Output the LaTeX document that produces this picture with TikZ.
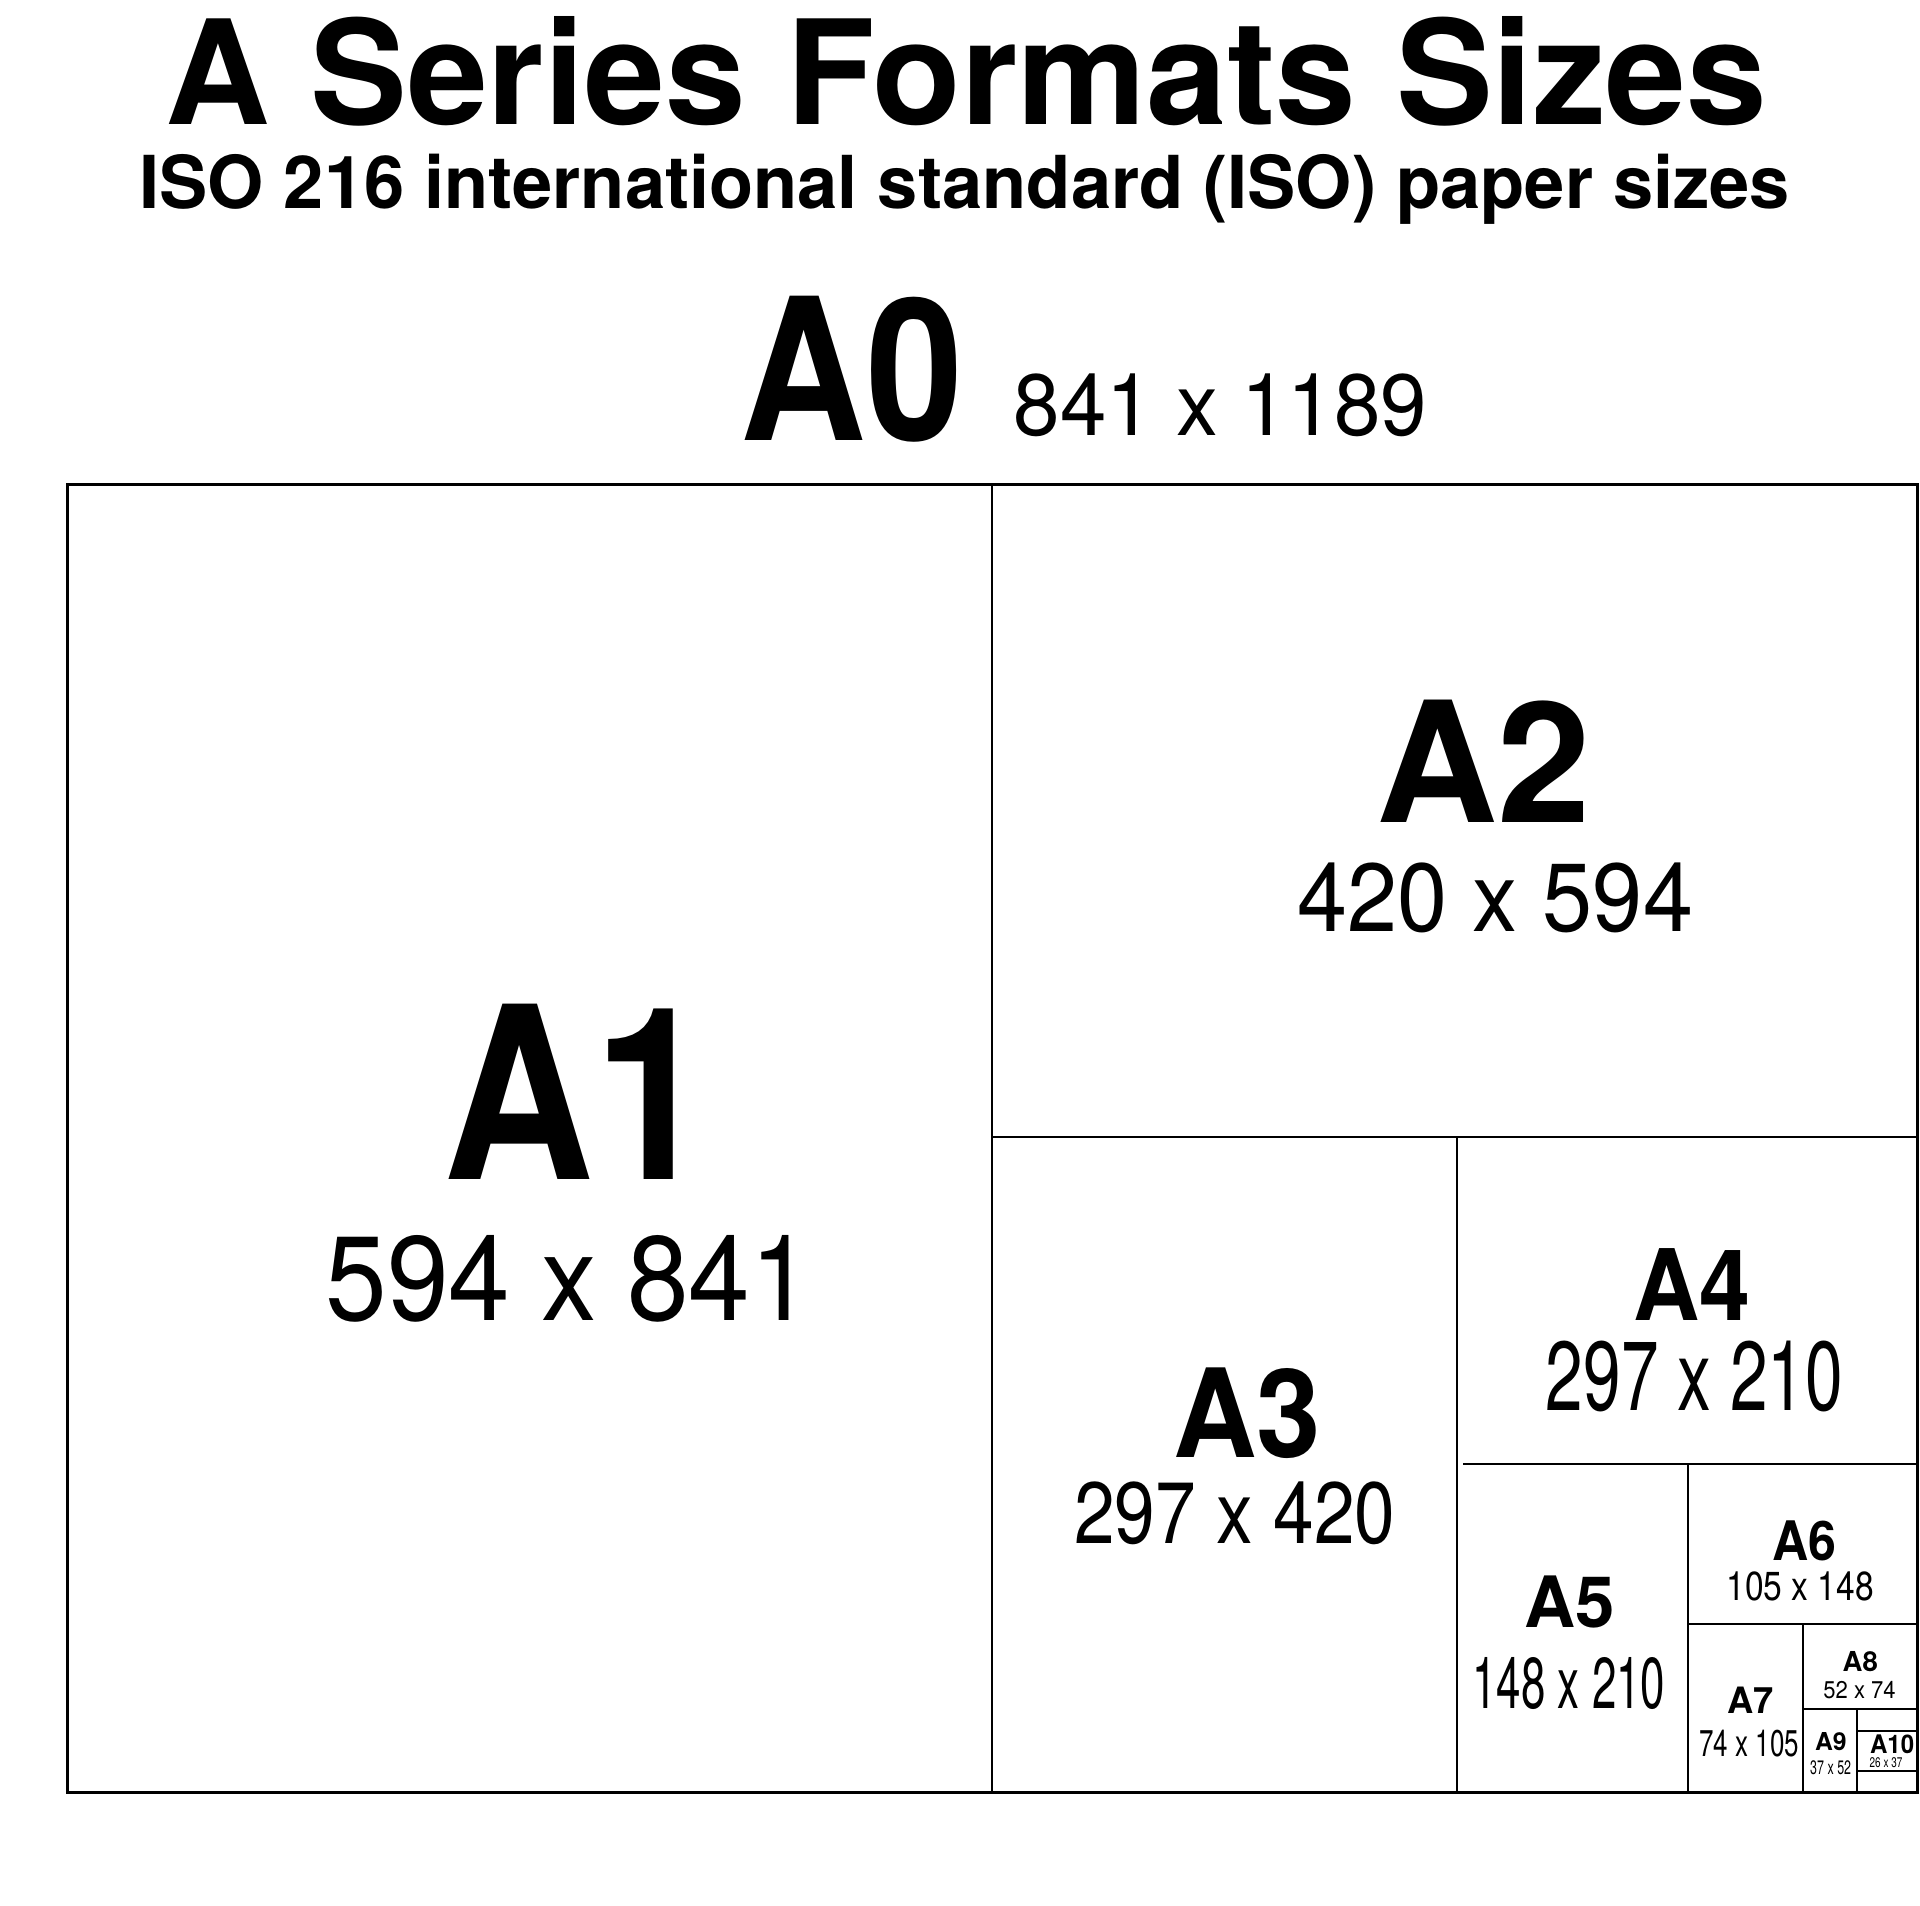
\documentclass[tikz,border=0pt]{standalone}
\usepackage{fontspec}
\setmainfont{TeX Gyre Heros}
\usepackage{graphicx}
\usepackage{tikz}
\usetikzlibrary{positioning}
\newcommand{\lbl}[3]{\fontsize{#1}{#1}\selectfont\scalebox{#2}[1]{#3}}

\begin{document}
\begin{tikzpicture}[
    x=1pt, y=-1pt,
    nosep/.style={inner sep=0, outer sep=0},
    sheetname/.style={nosep, anchor=base west, font=\bfseries},
    sheetsize/.style={nosep, anchor=base west},
    border/.style={line width=3pt},
    cut/.style={line width=2.2pt}]
\useasboundingbox[fill=white] (0,0) rectangle (1920,1906);

% heading
\node[sheetname] (title) at (165.5,124.3) {\lbl{145}{1}{A Series Formats Sizes}};
\node[sheetname] (subtitle) at (139.3,208.3) {\lbl{73}{0.99}{ISO 216 international standard (ISO) paper sizes}};
\node[sheetname] (A0) at (740.2,440) {\lbl{198}{0.88}{A0}};
\node[sheetsize] (A0-size) at (1013.9,435.7) {\lbl{87}{0.96}{841 x 1189}};

% sheets
\path[draw, border] (67,484) rectangle (1917,1792);
\path[draw, cut] (992,484) -- (992,1792);
\path[draw, cut] (992,1137) -- (1917,1137);
\path[draw, cut] (1457,1137) -- (1457,1792);
\path[draw, cut] (1463,1464) -- (1917,1464);
\path[draw, cut] (1688,1464) -- (1688,1792);
\path[draw, cut] (1688,1624) -- (1917,1624);
\path[draw, cut] (1803,1624) -- (1803,1792);
\path[draw, cut] (1803,1709) -- (1917,1709);
\path[draw, cut] (1857,1709) -- (1857,1792);
\path[draw, cut] (1857,1731) -- (1917,1731);
\path[draw, cut] (1857,1771) -- (1917,1771);

% labels
\node[sheetname] (A1) at (443.6,1179.3) {\lbl{240.6}{0.866}{A1}};
\node[sheetsize] (A1-size) at (325.6,1320) {\lbl{120}{0.923}{594 x 841}};
\node[sheetname] (A2) at (1376,822.7) {\lbl{168}{1}{A2}};
\node[sheetsize] (A2-size) at (1297.7,931) {\lbl{96.8}{0.93}{420 x 594}};
\node[sheetname] (A3) at (1173,1457.3) {\lbl{123}{0.94}{A3}};
\node[sheetsize] (A3-size) at (1074.3,1543.3) {\lbl{87}{0.84}{297 x 420}};
\node[sheetname] (A4) at (1633.7,1320) {\lbl{98.7}{0.93}{A4}};
\node[sheetsize] (A4-size) at (1545.9,1410.7) {\lbl{98}{0.69}{297 x 210}};
\node[sheetname] (A5) at (1524,1627.3) {\lbl{70.8}{1}{A5}};
\node[sheetsize] (A5-size) at (1472.5,1708.3) {\lbl{72}{0.61}{148 x 210}};
\node[sheetname] (A6) at (1772.7,1560) {\lbl{54.5}{0.92}{A6}};
\node[sheetsize] (A6-size) at (1726.3,1600.7) {\lbl{40.5}{0.83}{105 x 148}};
\node[sheetname] (A7) at (1727.3,1713.3) {\lbl{36.3}{1}{A7}};
\node[sheetsize] (A7-size) at (1699.4,1756) {\lbl{37.2}{0.7}{74 x 105}};
\node[sheetname] (A8) at (1842.7,1671.7) {\lbl{27.5}{1}{A8}};
\node[sheetsize] (A8-size) at (1823.4,1698.3) {\lbl{24.2}{0.91}{52 x 74}};
\node[sheetname] (A9) at (1815,1750) {\lbl{24.7}{1}{A9}};
\node[sheetsize] (A9-size) at (1810.2,1774) {\lbl{19.5}{0.64}{37 x 52}};
\node[sheetname] (A10) at (1870,1753.3) {\lbl{25.6}{0.94}{A10}};
\node[sheetsize] (A10-size) at (1869.7,1767.3) {\lbl{14}{0.71}{26 x 37}};

\end{tikzpicture}
\end{document}
